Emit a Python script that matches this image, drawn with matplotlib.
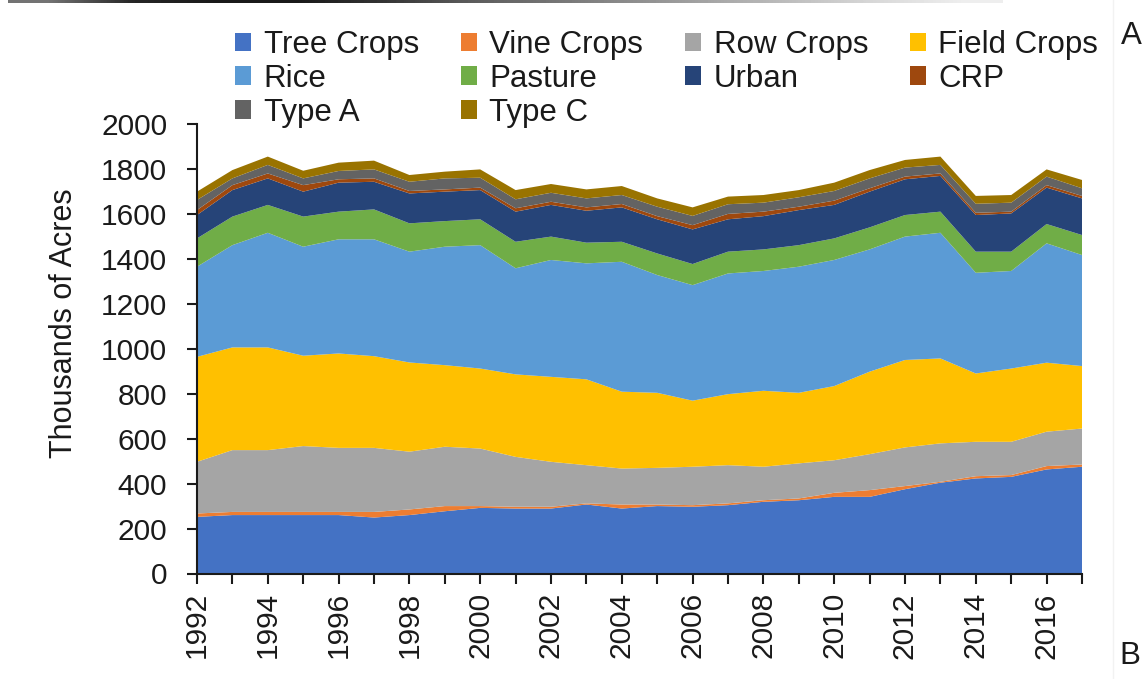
import numpy as np
import matplotlib
matplotlib.use("Agg")
import matplotlib.pyplot as plt

plt.rcParams['font.family'] = ['Liberation Sans', 'DejaVu Sans']

years = list(range(1992, 2018))
labels = ["Tree Crops", "Vine Crops", "Row Crops", "Field Crops", "Rice",
          "Pasture", "Urban", "CRP", "Type A", "Type C"]
colors = ["#4472C4", "#ED7D31", "#A5A5A5", "#FFC000", "#5B9BD5",
          "#70AD47", "#264478", "#9E480E", "#636363", "#997300"]

tree_crops = [252, 260, 260, 260, 260, 249, 260, 277, 292, 289, 289, 307, 289,
              300, 297, 304, 319, 326, 341, 341, 375, 404, 423, 430, 463, 475]
vine_crops = [15, 14, 14, 14, 14, 25, 25, 23, 8, 8, 8, 5, 18,
              7, 7, 8, 7, 8, 18, 30, 14, 4, 10, 8, 15, 10]
row_crops = [230, 275, 275, 293, 285, 285, 257, 264, 256, 222, 200, 170, 160,
             163, 171, 170, 149, 156, 145, 160, 172, 171, 153, 148, 153, 160]
field_crops = [467, 457, 457, 402, 420, 408, 397, 363, 356, 367, 378, 382, 342,
               334, 294, 316, 338, 314, 330, 367, 389, 378, 304, 326, 307, 278]
rice = [401, 455, 510, 485, 508, 520, 493, 527, 549, 472, 520, 516, 578,
        524, 514, 537, 533, 561, 561, 544, 549, 559, 448, 434, 531, 494]
pasture = [126, 127, 124, 134, 123, 133, 126, 114, 115, 118, 104, 92, 89,
           96, 94, 97, 96, 96, 96, 98, 96, 94, 94, 86, 86, 89]
urban = [104, 118, 118, 111, 129, 123, 133, 131, 130, 134, 141, 142, 153,
         152, 154, 144, 148, 156, 149, 159, 159, 159, 163, 170, 162, 163]
crp = [22, 22, 22, 29, 15, 15, 11, 10, 11, 15, 14, 15, 15,
       14, 19, 24, 20, 15, 19, 15, 12, 11, 10, 8, 11, 11]
type_a = [45, 30, 38, 30, 37, 40, 41, 49, 44, 40, 40, 40, 40,
          42, 41, 43, 40, 42, 43, 44, 40, 38, 40, 40, 38, 34]
type_c = [37, 37, 37, 34, 37, 39, 30, 30, 37, 41, 39, 40, 40,
          37, 38, 34, 34, 32, 37, 37, 34, 37, 35, 34, 32, 37]

series = [tree_crops, vine_crops, row_crops, field_crops, rice,
          pasture, urban, crp, type_a, type_c]

y_ticks = list(range(0, 2001, 200))
x_tick_labels = list(range(1992, 2017, 2))

W, H = 1144, 679
fig = plt.figure(figsize=(W / 100, H / 100), dpi=100)
fig.patch.set_facecolor("white")

left, right = 197 / W, 1082 / W
bottom, top = (H - 573.5) / H, (H - 124) / H
ax = fig.add_axes([left, bottom, right - left, top - bottom])

polys = ax.stackplot(years, *series, colors=colors, labels=labels, linewidth=0)

txt = "#1a1a1a"
fs_tick = 21.5
fs = 22.5
ax.set_xlim(1992, 2017)
ax.set_ylim(0, 2000)
ax.set_yticks(y_ticks)
ax.set_yticklabels([str(v) for v in y_ticks], fontsize=fs_tick, color=txt)
ax.set_xticks(years, minor=False)
ax.set_xticklabels([str(y) if y in x_tick_labels else "" for y in years],
                   rotation=90, fontsize=fs_tick, color=txt)
ax.tick_params(axis="y", direction="out", length=7.5, width=1.5, pad=14, colors=txt)
ax.tick_params(axis="x", direction="out", length=7.5, width=1.5, pad=6, colors=txt)
for s in ["top", "right"]:
    ax.spines[s].set_visible(False)
for s in ["left", "bottom"]:
    ax.spines[s].set_linewidth(1.5)
    ax.spines[s].set_color(txt)
ax.set_ylabel("Thousands of Acres", fontsize=22, color=txt)
ax.yaxis.set_label_coords((79 - 197) / 885, (573.5 - 323) / 449.5)

# legend in row-major order over 4 columns
order = [0, 4, 8, 1, 5, 9, 2, 6, 3, 7]
handles = [polys[i] for i in order]
leg_labels = [labels[i] for i in order]
leg = fig.legend(handles, leg_labels, ncol=4, frameon=False,
                 loc="upper left", bbox_to_anchor=(235 / W, 1 - 30 / H),
                 fontsize=fs, handlelength=0.52, handleheight=0.55,
                 handletextpad=0.4, columnspacing=1.33, labelspacing=0.12,
                 borderpad=0, borderaxespad=0)
for t in leg.get_texts():
    t.set_color(txt)

fig.text(1121 / W, 1 - 36 / H, "A", fontsize=fs, color=txt, ha="left", va="center")
fig.text(1119 / W, 1 - 656 / H, "B", fontsize=fs, color=txt, ha="left", va="center")

# cropped border line at the top edge
lax = fig.add_axes([8 / W, 1 - 3 / H, (1003 - 8) / W, 3 / H])
grad = np.array([[0.45, 0.15, 0.1, 0.1, 0.2, 0.35, 0.45, 0.55, 0.65, 0.75, 0.85, 0.93]])
lax.imshow(grad, aspect="auto", cmap="gray", vmin=0, vmax=1, interpolation="bilinear")
lax.axis("off")

# faint vertical separator
fig.add_artist(plt.Line2D([1113 / W, 1113 / W], [0, 1], color="#f2f2f2", linewidth=1))

fig.savefig("out.png", dpi=100)
